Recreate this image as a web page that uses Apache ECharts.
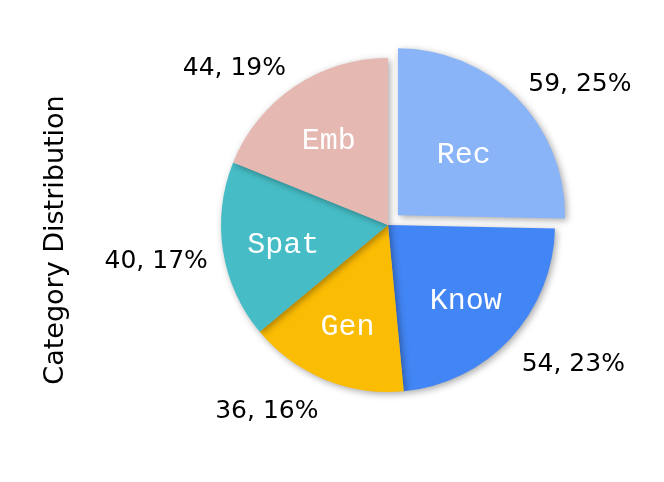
<!DOCTYPE html>
<html>
<head>
<meta charset="utf-8">
<script src="https://cdn.jsdelivr.net/npm/echarts@6/dist/echarts.min.js"></script>
<style>
  html, body { margin: 0; padding: 0; background: #fff; }
  #chart { width: 664px; height: 482px; }
</style>
</head>
<body>
<div id="chart"></div>
<script>
// Category counts, drawn clockwise from 12 o'clock
const categories = ['Rec', 'Know', 'Gen', 'Spat', 'Emb'];
const counts = [59, 54, 36, 40, 44];
const colors = ['#8AB4F8', '#4285F4', '#FBBC04', '#46BDC6', '#E6B8B2'];
const explodedCategory = 'Rec';
const axisTitle = 'Category Distribution';

const chart = echarts.init(document.getElementById('chart'), null, { renderer: 'canvas' });

const sliceData = categories.map((name, i) => ({
  name: name,
  value: counts[i],
  selected: name === explodedCategory,
  itemStyle: { color: colors[i] }
}));

const nameData = categories.map((name, i) => ({ name: name, value: counts[i] }));

const CENTER = [388, 225];
const RADIUS = 167;

// nudge the outer value labels: a little tighter sideways, a little lower
function outerLabelNudge(p) {
  const r = p.labelRect;
  const midX = r.x + r.width / 2;
  const anchorX = midX > CENTER[0] ? r.x : r.x + r.width;
  const relX = anchorX - CENTER[0];
  const relY = r.y + r.height / 2 - CENTER[1];
  return { dx: -0.035 * relX, dy: 6 + 0.035 * relY };
}

chart.setOption({
  animation: false,
  backgroundColor: '#ffffff',
  graphic: [{
    type: 'text',
    x: 56,
    y: 240,
    rotation: Math.PI / 2,
    style: {
      text: axisTitle,
      fontFamily: 'DejaVu Sans',
      fontSize: 27,
      fill: '#000',
      textAlign: 'center',
      textVerticalAlign: 'middle'
    }
  }],
  series: [
    {
      // slices with "count, percent" labels outside
      type: 'pie',
      center: CENTER,
      radius: RADIUS,
      startAngle: 90,
      clockwise: true,
      percentPrecision: 0,
      selectedMode: 'single',
      selectedOffset: 14,
      avoidLabelOverlap: false,
      emphasis: { disabled: true },
      itemStyle: {
        shadowBlur: 7,
        shadowOffsetX: 2,
        shadowOffsetY: 2,
        shadowColor: 'rgba(0,0,0,0.35)'
      },
      label: {
        show: true,
        position: 'outside',
        formatter: '{c}, {d}%',
        fontFamily: 'DejaVu Sans',
        fontSize: 25,
        color: '#000',
        distanceToLabelLine: 0
      },
      labelLine: { show: false, length: 22, length2: 0 },
      labelLayout: outerLabelNudge,
      data: sliceData
    },
    {
      // transparent overlay carrying the category names inside each slice
      type: 'pie',
      center: CENTER,
      radius: 206,
      startAngle: 90,
      clockwise: true,
      silent: true,
      z: 5,
      emphasis: { disabled: true },
      itemStyle: { color: 'rgba(0,0,0,0)' },
      label: {
        show: true,
        position: 'inside',
        formatter: '{b}',
        fontFamily: '"Courier New", "Liberation Mono", monospace',
        fontSize: 30,
        color: '#ffffff'
      },
      labelLine: { show: false },
      labelLayout: { dy: 4 },
      data: nameData
    }
  ]
});
</script>
</body>
</html>
